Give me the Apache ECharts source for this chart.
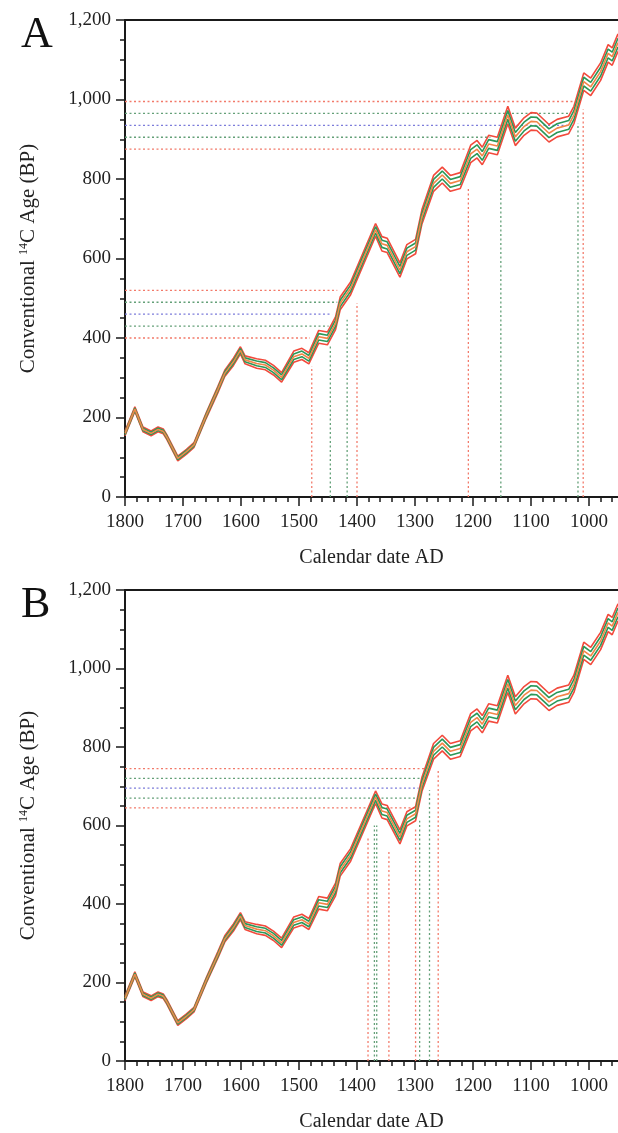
<!DOCTYPE html>
<html>
<head>
<meta charset="utf-8">
<script src="https://cdn.jsdelivr.net/npm/echarts@6/dist/echarts.min.js"></script>
<style>
  html, body { margin: 0; padding: 0; background: #ffffff; }
  #chart { width: 618px; height: 1133px; }
</style>
</head>
<body>
<div id="chart"></div>
<script>
// Radiocarbon calibration curve: calendar date (AD), conventional 14C age (BP), 1-sigma error
const calDates = [1800, 1783, 1769, 1755, 1743, 1734, 1728, 1709, 1694, 1681, 1660, 1640, 1628, 1613, 1601,
  1593, 1573, 1558, 1544, 1530, 1509, 1495, 1483, 1466, 1451, 1437, 1429, 1411, 1368, 1357, 1348, 1326,
  1314, 1299, 1288, 1268, 1253, 1239, 1222, 1204, 1193, 1184, 1173, 1158, 1140, 1127, 1112, 1100, 1090,
  1069, 1055, 1035, 1026, 1009, 997, 980, 967, 960, 950];
const calAges = [160, 221, 170, 160, 170, 165, 151, 97, 114, 131, 205, 270, 311, 340, 369,
  345, 336, 332, 319, 301, 353, 360, 349, 403, 399, 437, 487, 525, 672, 637, 633, 571,
  617, 630, 705, 789, 810, 789, 796, 863, 875, 858, 888, 883, 961, 906, 932, 945, 944,
  915, 928, 936, 961, 1045, 1032, 1070, 1116, 1108, 1143];
const calSigma = [3, 3, 3, 3, 3, 3, 3, 3, 3, 3, 3.5, 4, 4, 4.5, 4.5,
  5, 6, 6, 6, 6, 7, 7, 7, 8, 8, 8, 8, 8, 8, 9, 9, 9,
  9, 9, 9, 10, 10, 10, 10, 11, 11, 11, 11, 11, 11, 11, 11, 11, 11,
  11, 11, 11, 11, 11, 11, 11, 11, 11, 11];

// Sample A: measured ages as horizontal guides [age BP, end date AD, sigma level]
const guidesAh = [[995, 1021, 2], [965, 1032, 1], [935, 1035, 0], [905, 1170, 1], [875, 1210, 2],
  [520, 1434, 2], [490, 1434, 1], [460, 1443, 0], [430, 1449, 1], [400, 1481, 2]];
// Sample A: calibrated date limits [date AD, top age BP, sigma level]
const guidesAv = [[1478, 329, 2], [1446, 379, 1], [1417, 446, 1], [1400, 488, 2],
  [1208, 780, 2], [1152, 850, 1], [1019, 940, 1], [1010, 975, 2]];
// Sample B
const guidesBh = [[745, 1279, 2], [720, 1282, 1], [695, 1294, 0], [670, 1294, 1], [645, 1296, 2]];
const guidesBv = [[1381, 569, 2], [1370, 600, 1], [1366, 600, 1], [1345, 537, 2],
  [1299, 594, 2], [1292, 612, 1], [1275, 690, 1], [1260, 740, 2]];

// Axis ticks
const xMajorTicks = [1800, 1700, 1600, 1500, 1400, 1300, 1200, 1100, 1000];
const xMinorTicks = [];
for (let d = 1800; d >= 950; d -= 20) xMinorTicks.push(d);
const panelLetters = ['A', 'B'];

const FONT = "'Liberation Serif', 'DejaVu Serif', serif";
const AXIS_COLOR = '#1a1a1a';
const TEXT_COLOR = '#222222';
const guideColor = { 2: '#f27a6a', 1: '#64a078', 0: '#7c7cda' };
const bandStyle = [
  { k: 2, color: '#f24a3c' }, { k: -2, color: '#f24a3c' },
  { k: 1, color: '#2b9858' }, { k: -1, color: '#2b9858' },
  { k: 0, color: '#f28548' }
];

const panelTops = [20, 590];
const PLOT_H = 477;
const grids = [], xAxes = [], yAxes = [], series = [], graphics = [];

function addPanel(p, hGuides, vGuides) {
  grids.push({ left: 125, top: panelTops[p], width: 493, height: PLOT_H });
  const xMain = xAxes.length;
  xAxes.push({
    gridIndex: p, type: 'value', min: 950, max: 1800, inverse: true, position: 'bottom',
    name: 'Calendar date AD', nameLocation: 'middle', nameGap: 51,
    nameTextStyle: { fontFamily: FONT, fontSize: 20, color: TEXT_COLOR },
    axisLine: { show: true, onZero: false, lineStyle: { color: AXIS_COLOR, width: 2 } },
    axisTick: { show: true, customValues: xMajorTicks, length: 9, lineStyle: { color: AXIS_COLOR, width: 1.5 } },
    axisLabel: { show: true, customValues: xMajorTicks, margin: 16, fontFamily: FONT, fontSize: 19,
      color: TEXT_COLOR, formatter: v => String(v) },
    splitLine: { show: false }
  });
  // minor ticks along the bottom
  xAxes.push({
    gridIndex: p, type: 'value', min: 950, max: 1800, inverse: true, position: 'bottom',
    axisLine: { show: false, onZero: false },
    axisTick: { show: true, customValues: xMinorTicks, length: 5, lineStyle: { color: AXIS_COLOR, width: 1.5 } },
    axisLabel: { show: false }, splitLine: { show: false }
  });
  // frame line along the top
  xAxes.push({
    gridIndex: p, type: 'value', min: 950, max: 1800, inverse: true, position: 'top',
    axisLine: { show: true, onZero: false, lineStyle: { color: AXIS_COLOR, width: 2 } },
    axisTick: { show: false }, axisLabel: { show: false }, splitLine: { show: false }
  });
  const yIdx = yAxes.length;
  yAxes.push({
    gridIndex: p, type: 'value', min: 0, max: 1200, interval: 200, position: 'left',
    name: '{t|Conventional }{s|14}{t|C Age (BP)}', nameLocation: 'middle', nameGap: 86, nameRotate: 90,
    nameTextStyle: {
      rich: {
        t: { fontFamily: FONT, fontSize: 21, color: TEXT_COLOR },
        s: { fontFamily: FONT, fontSize: 12, color: TEXT_COLOR, verticalAlign: 'top', padding: [0, 0, 9, 0] }
      }
    },
    axisLine: { show: true, onZero: false, lineStyle: { color: AXIS_COLOR, width: 2 } },
    axisTick: { show: true, length: 9, lineStyle: { color: AXIS_COLOR, width: 1.5 } },
    minorTick: { show: true, splitNumber: 4, length: 5, lineStyle: { color: AXIS_COLOR, width: 1.5 } },
    axisLabel: { margin: 14, fontFamily: FONT, fontSize: 19, color: TEXT_COLOR,
      formatter: v => v.toLocaleString('en-US') },
    splitLine: { show: false }
  });

  const base = { type: 'line', xAxisIndex: xMain, yAxisIndex: yIdx, showSymbol: false, symbol: 'none',
    silent: true, animation: false, clip: true };

  hGuides.forEach(([age, end, lvl]) => {
    series.push(Object.assign({}, base, {
      z: 2, data: [[1800, age], [end, age]],
      lineStyle: { color: guideColor[lvl], width: 1.3, type: [2, 2.5] }
    }));
  });
  vGuides.forEach(([date, top, lvl]) => {
    series.push(Object.assign({}, base, {
      z: 2, data: [[date, 0], [date, top]],
      lineStyle: { color: guideColor[lvl], width: 1.3, type: [2, 2.5] }
    }));
  });
  bandStyle.forEach(({ k, color }) => {
    series.push(Object.assign({}, base, {
      z: 3, data: calDates.map((d, i) => [d, calAges[i] + k * calSigma[i]]),
      lineStyle: { color, width: 1.6 }
    }));
  });

  graphics.push({
    type: 'text', left: 21, top: panelTops[p] - 7,
    style: { text: panelLetters[p], font: '44px ' + FONT, fill: '#111' }
  });
}

addPanel(0, guidesAh, guidesAv);
addPanel(1, guidesBh, guidesBv);

const chart = echarts.init(document.getElementById('chart'), null, { renderer: 'canvas' });
chart.setOption({
  backgroundColor: '#ffffff',
  animation: false,
  grid: grids, xAxis: xAxes, yAxis: yAxes, series: series, graphic: graphics
});
</script>
</body>
</html>
